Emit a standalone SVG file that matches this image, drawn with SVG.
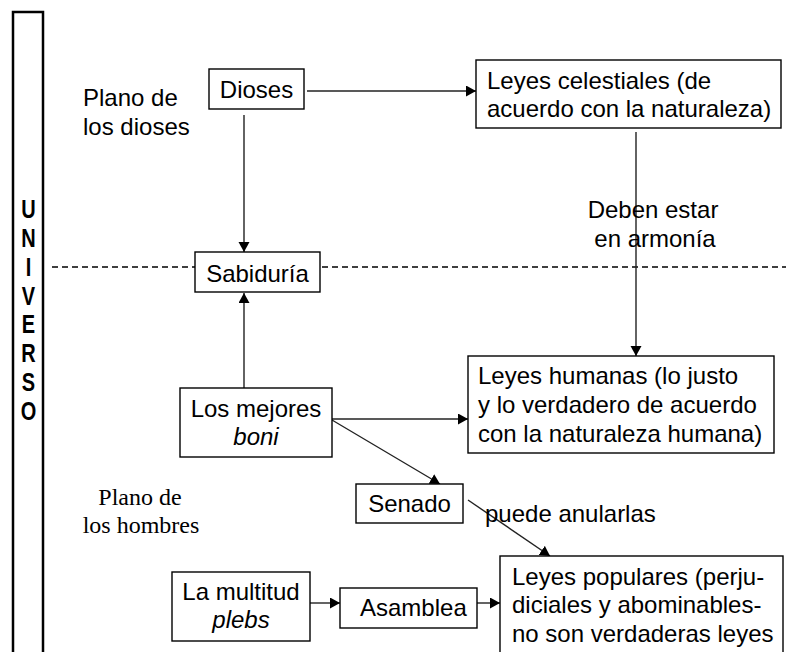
<svg xmlns="http://www.w3.org/2000/svg" width="786" height="652" viewBox="0 0 786 652">
<defs>
<marker id="arr" markerUnits="userSpaceOnUse" markerWidth="12" markerHeight="12" refX="10" refY="5.5" orient="auto">
<path d="M0,0 L10,5.5 L0,11 z" fill="#000"/>
</marker>
<style>
.box{fill:#fff;stroke:#000;stroke-width:1.4}
.t{font-family:"Liberation Sans",Arial,sans-serif;font-size:24px;fill:#000}
.s{font-family:"Liberation Serif","Times New Roman",serif;font-size:24px;fill:#000}
.c{text-anchor:middle}
.i{font-style:italic}
.ln{fill:none;stroke:#222;stroke-width:1.4}
.ar{marker-end:url(#arr)}
.u{font-family:"Liberation Sans",Arial,sans-serif;font-size:20px;font-weight:bold;text-anchor:middle;fill:#000}
</style>
</defs>
<rect width="786" height="652" fill="#fff"/>

<g id="universo">
<rect x="13" y="12" width="30" height="660" fill="none" stroke="#000" stroke-width="2.5"/>
<g transform="scale(1,1.25)">
<text class="u" x="28.5" y="174.4">U</text>
<text class="u" x="28.5" y="197.6">N</text>
<text class="u" x="28.5" y="220.5">I</text>
<text class="u" x="28.5" y="244">V</text>
<text class="u" x="28.5" y="266.4">E</text>
<text class="u" x="28.5" y="289.6">R</text>
<text class="u" x="28.5" y="312.8">S</text>
<text class="u" x="28.5" y="336">O</text>
</g>
</g>

<g id="divisor">
<line x1="52" y1="267" x2="786" y2="267" stroke="#000" stroke-width="1.6" stroke-dasharray="6,4"/>
</g>

<g id="plano-dioses">
<text class="t" x="83" y="106">Plano de</text>
<text class="t" x="83" y="135">los dioses</text>
</g>

<g id="plano-hombres">
<text class="s c" x="140" y="505">Plano de</text>
<text class="s c" x="141" y="533">los hombres</text>
</g>

<g id="connectors">
<path class="ln ar" d="M307,91 L476,91"/>
<path class="ln ar" d="M244,115 L244,252"/>
<path class="ln ar" d="M244,388 L244,293"/>
<path class="ln ar" d="M636,132 L636,356"/>
<path class="ln ar" d="M332,419 L468,419"/>
<path class="ln ar" d="M332,420 L440,484"/>
<path class="ln ar" d="M468,500 L550,556"/>
<path class="ln ar" d="M310,603 L340,603"/>
<path class="ln ar" d="M477,603 L500,603"/>
</g>

<g id="dioses">
<rect class="box" x="209" y="69" width="95" height="40"/>
<text class="t c" x="256.5" y="98">Dioses</text>
</g>

<g id="leyes-celestiales">
<rect class="box" x="476" y="60" width="305" height="68"/>
<text class="t" x="487" y="89">Leyes celestiales (de</text>
<text class="t" x="487" y="117">acuerdo con la naturaleza)</text>
</g>

<g id="armonia">
<text class="t c" x="653" y="218">Deben estar</text>
<text class="t c" x="655" y="247">en armonía</text>
</g>

<g id="sabiduria">
<rect class="box" x="195" y="252" width="125" height="40"/>
<text class="t c" x="257.5" y="282">Sabiduría</text>
</g>

<g id="mejores">
<rect class="box" x="180" y="388" width="152" height="69"/>
<text class="t c" x="256" y="417">Los mejores</text>
<text class="t c i" x="256" y="445">boni</text>
</g>

<g id="leyes-humanas">
<rect class="box" x="468" y="356" width="306" height="97"/>
<text class="t" x="478" y="384">Leyes humanas (lo justo</text>
<text class="t" x="478" y="413">y lo verdadero de acuerdo</text>
<text class="t" x="478" y="442">con la naturaleza humana)</text>
</g>

<g id="senado">
<rect class="box" x="356" y="484" width="107" height="39"/>
<text class="t c" x="409.5" y="512">Senado</text>
</g>

<g id="anular">
<text class="t" x="485" y="522">puede anularlas</text>
</g>

<g id="multitud">
<rect class="box" x="172" y="572" width="138" height="69"/>
<text class="t c" x="241" y="600">La multitud</text>
<text class="t c i" x="241" y="628">plebs</text>
</g>

<g id="asamblea">
<rect class="box" x="340" y="588" width="137" height="40"/>
<text class="t" x="360" y="616">Asamblea</text>
</g>

<g id="leyes-populares">
<rect class="box" x="500" y="556" width="283" height="120"/>
<text class="t" x="512" y="585">Leyes populares (perju-</text>
<text class="t" x="512" y="613">diciales y abominables-</text>
<text class="t" x="512" y="642">no son verdaderas leyes</text>
</g>
</svg>
